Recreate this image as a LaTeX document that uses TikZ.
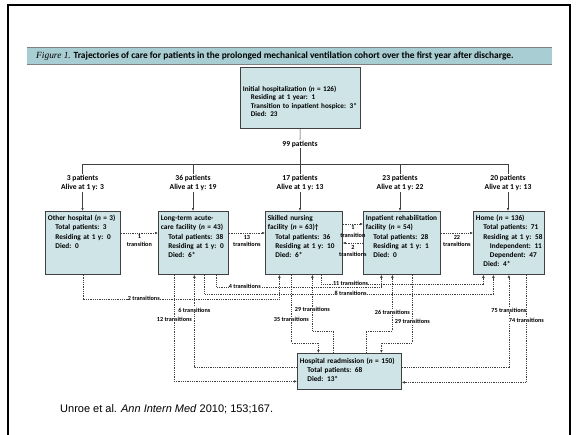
\documentclass[tikz,border=0pt]{standalone}
\usepackage{fontspec}
\setmainfont{Carlito}
\newfontfamily\serifit{Liberation Serif}
\newfontfamily\citefont{Liberation Sans}
\usepackage{xcolor}
\usetikzlibrary{positioning,arrows.meta}

\definecolor{boxfill}{HTML}{CFE4E7}
\definecolor{capfill}{HTML}{A8CDD2}
\definecolor{lineclr}{HTML}{404040}

% one line inside a box, indented by #1
\newcommand{\ind}[2]{\hspace*{#1}\mbox{#2}}

\tikzset{
  pbox/.style={draw=lineclr, fill=boxfill, line width=0.8pt, anchor=north west,
    align=left, inner xsep=2.5pt, inner ysep=2pt,
    font=\bfseries\fontsize{7.3}{9.3}\selectfont},
  cnt/.style={align=center, inner sep=1pt, font=\bfseries\fontsize{7.6}{9.6}\selectfont},
  down/.style={draw=lineclr, line width=0.6pt, -{Latex[length=3pt,width=2.6pt]}},
  trans/.style={draw=lineclr, line width=0.5pt, dash pattern=on 1pt off 0.8pt,
    -{Latex[length=3pt,width=2.6pt]}},
  tlbl/.style={fill=white, inner sep=0.3pt, font=\bfseries\fontsize{6.2}{7}\selectfont},
  hlbl/.style={anchor=north, yshift=-1.4pt, align=center, inner sep=0.3pt,
    font=\bfseries\fontsize{6.2}{7.4}\selectfont}
}

\begin{document}
\begin{tikzpicture}[x=1pt, y=-1pt]
\useasboundingbox (0,0) rectangle (578,434);
\draw[line width=2.4pt] (8,440) -- (8,5) -- (570,5) -- (570,440);

% caption bar
\node[fill=capfill, minimum width=525pt, minimum height=17pt, inner sep=0pt,
  anchor=north west] (capbar) at (27,47) {};
\draw[gray, line width=0.8pt] (capbar.north west) -- (capbar.north east);
\draw[gray, line width=0.8pt] (capbar.south west) -- (capbar.south east);
\node[anchor=west, inner sep=0pt, font=\bfseries\fontsize{9.4}{10}\selectfont] (captxt)
  at ([xshift=9pt]capbar.west)
  {{\serifit\itshape\mdseries Figure 1.} Trajectories of care for patients in the prolonged mechanical ventilation cohort over the first year after discharge.};

% boxes
\node[pbox, text width=115pt, text height=22pt, text depth=35pt,
  font=\bfseries\fontsize{7.2}{8.5}\selectfont] (init) at (240,67)
  {\ind{0pt}{Initial hospitalization (\textit{n} = 126)}\\
   \ind{8pt}{Residing at 1 year: 1}\\
   \ind{8pt}{Transition to inpatient hospice: 3*}\\
   \ind{8pt}{Died: 23}};

\node[pbox, text width=70pt, text height=7pt, text depth=52pt] (oh) at (45,211)
  {\ind{0pt}{Other hospital (\textit{n} = 3)}\\
   \ind{7.5pt}{Total patients: 3}\\
   \ind{7.5pt}{Residing at 1 y: 0}\\
   \ind{7.5pt}{Died: 0}};
\node[pbox, text width=65pt, text height=7pt, text depth=52pt] (ltac) at (158,211)
  {\ind{0pt}{Long-term acute-}\\
   \ind{0pt}{care facility (\textit{n} = 43)}\\
   \ind{7.5pt}{Total patients: 38}\\
   \ind{7.5pt}{Residing at 1 y: 0}\\
   \ind{7.5pt}{Died: 6*}};
\node[pbox, text width=72pt, text height=7pt, text depth=52pt] (snf) at (265,211)
  {\ind{0pt}{Skilled nursing}\\
   \ind{0pt}{facility (\textit{n} = 63)\textdagger}\\
   \ind{7.5pt}{Total patients: 36}\\
   \ind{7.5pt}{Residing at 1 y: 10}\\
   \ind{7.5pt}{Died: 6*}};
\node[pbox, text width=72pt, text height=7pt, text depth=52pt] (irf) at (363,211)
  {\ind{0pt}{Inpatient rehabilitation}\\
   \ind{0pt}{facility (\textit{n} = 54)}\\
   \ind{7.5pt}{Total patients: 28}\\
   \ind{7.5pt}{Residing at 1 y: 1}\\
   \ind{7.5pt}{Died: 0}};
\node[pbox, text width=66pt, text height=7pt, text depth=52pt] (home) at (473,211)
  {\ind{0pt}{Home (\textit{n} = 136)}\\
   \ind{7.5pt}{Total patients: 71}\\
   \ind{7.5pt}{Residing at 1 y: 58}\\
   \ind{14pt}{Independent: 11}\\
   \ind{14pt}{Dependent: 47}\\
   \ind{7.5pt}{Died: 4*}};
\node[pbox, text width=99pt, text height=8pt, text depth=24pt,
  font=\bfseries\fontsize{7.3}{8.8}\selectfont] (readm) at (297,353)
  {\ind{0pt}{Hospital readmission (\textit{n} = 150)}\\
   \ind{7.5pt}{Total patients: 68}\\
   \ind{7.5pt}{Died: 13*}};

% counts after discharge
\node[cnt] (n99) at (300,144) {99 patients};
\node[cnt] (lab1) at (82.5,183) {3 patients\\Alive at 1 y: 3};
\node[cnt] (lab2) at (193,183) {36 patients\\Alive at 1 y: 19};
\node[cnt] (lab3) at (300,183) {17 patients\\Alive at 1 y: 13};
\node[cnt] (lab4) at (400,183) {23 patients\\Alive at 1 y: 22};
\node[cnt] (lab5) at (508,183) {20 patients\\Alive at 1 y: 13};
\coordinate (bar1) at (82.5,164);
\coordinate (bar5) at (508,164);

\draw[lineclr, line width=0.6pt] (init) -- (n99);
\draw[lineclr, line width=0.6pt] (n99) -- (lab3);
\draw[lineclr, line width=0.6pt] (bar1) -- (bar5);
\foreach \i/\b in {1/oh,2/ltac,3/snf,4/irf,5/home}{
  \draw[lineclr, line width=0.6pt] (lab\i |- bar1) -- (lab\i);
  \draw[down] (lab\i) -- (lab\i |- \b.north);
}

% transitions between facilities
\draw[trans] ([yshift=-22pt]oh.north east) -- node[hlbl]{1\\transition} ([yshift=-22pt]ltac.north west);
\draw[trans] ([yshift=-22pt]ltac.north east) -- node[hlbl]{13\\transitions} ([yshift=-22pt]snf.north west);
\draw[trans] ([yshift=-13pt]snf.north east) -- node[hlbl]{1\\transition} ([yshift=-13pt]irf.north west);
\draw[trans] ([yshift=-32pt]irf.north west) -- node[hlbl]{2\\transitions} ([yshift=-32pt]snf.north east);
\draw[trans] ([yshift=-22pt]irf.north east) -- node[hlbl]{22\\transitions} ([yshift=-22pt]home.north west);

\draw[trans] (oh.south) -- ++(0,24) -| node[tlbl, pos=0.155]{2 transitions} ([xshift=-24.5pt]snf.south);
\draw[trans] ([xshift=23pt]ltac.south) -- ++(0,12) -| node[tlbl, pos=0.086]{4 transitions} ([xshift=-20.5pt]irf.south);
\draw[trans] ([xshift=11pt]ltac.south) -- ++(0,19) -| node[tlbl, pos=0.253]{8 transitions} ([xshift=-15.5pt]home.south);
\draw[trans] ([xshift=17.5pt]snf.south) -- ++(0,9) -| node[tlbl, pos=0.09]{11 transitions} ([xshift=-25.5pt]home.south);

% transitions through readmission
\draw[trans] ([xshift=-19pt]ltac.south) |- node[tlbl, pos=0.21]{12 transitions} ([yshift=-10pt]readm.west);
\draw[trans] ([yshift=4pt]readm.west) -| node[tlbl, pos=0.81]{6 transitions} ([xshift=1pt]ltac.south);
\draw[trans] ([xshift=-12.5pt]snf.south) -- node[tlbl, pos=0.65]{35 transitions} ++(0,68) -| ([xshift=-31pt]readm.north);
\draw[trans] ([xshift=-16pt]readm.north) -- ++(0,-22) -| node[tlbl, pos=0.69]{29 transitions} ([xshift=8.5pt]snf.south);
\draw[trans] ([xshift=17pt]readm.north) -- ++(0,-22) -| node[tlbl, pos=0.67]{26 transitions} ([xshift=-9.5pt]irf.south);
\draw[trans] ([xshift=10.5pt]irf.south) -- node[tlbl, pos=0.69]{29 transitions} ++(0,68) -| ([xshift=32pt]readm.north);
\draw[trans] ([yshift=4pt]readm.east) -| node[tlbl, pos=0.81]{75 transitions} (home.south);
\draw[trans] ([xshift=17.5pt]home.south) |- node[tlbl, pos=0.21]{74 transitions} ([yshift=-11pt]readm.east);

% source
\node[anchor=west, inner sep=0pt, font=\citefont\fontsize{11}{13}\selectfont] (cite) at (60,409)
  {Unroe et al. \textit{Ann Intern Med} 2010; 153;167.};
\end{tikzpicture}
\end{document}
